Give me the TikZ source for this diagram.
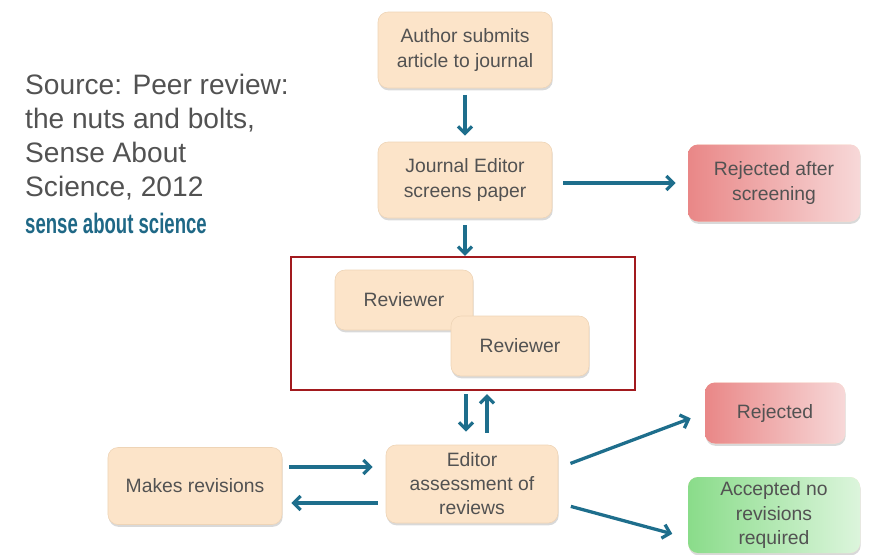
\documentclass[tikz,border=0pt]{standalone}
\usepackage{fontspec}
\setmainfont{Liberation Sans}
\usetikzlibrary{shadows}
\usetikzlibrary{arrows.meta}

\definecolor{peach}{RGB}{252,228,201}
\definecolor{peachline}{RGB}{238,212,182}
\definecolor{flowblue}{RGB}{30,110,140}
\definecolor{framered}{RGB}{162,26,30}
\definecolor{txtgray}{RGB}{82,82,82}
\definecolor{logoblue}{RGB}{31,104,134}
\definecolor{rejdark}{RGB}{233,135,135}
\definecolor{rejlight}{RGB}{247,216,216}
\definecolor{accdark}{RGB}{138,220,138}
\definecolor{acclight}{RGB}{220,245,220}

\begin{document}
\begin{tikzpicture}[x=0.03cm,y=-0.03cm,
  box/.style={rounded corners=0.3cm,fill=peach,draw=peachline,line width=0.5pt,
    text=txtgray,align=center,inner sep=0pt,font=\fontsize{16.5}{20.5}\selectfont,
    drop shadow={shadow xshift=0.6pt,shadow yshift=-2pt,opacity=0.3}},
  rejbox/.style={box,draw=none,left color=rejdark,right color=rejlight},
  accbox/.style={box,draw=none,left color=accdark,right color=acclight},
  flow/.style={draw=flowblue,line width=2.8pt,-{Straight Barb[length=6pt,width=12pt]}}]
\useasboundingbox (0,0) rectangle (871,554);

% source text
\node [anchor=north west,inner sep=0pt,align=left,text=txtgray,
  font=\fontsize{24}{29}\selectfont] (source) at (25,74)
  {Source: Peer review:\\the nuts and bolts,\\Sense About\\Science, 2012};
\node [anchor=base west,inner sep=0pt,text=logoblue,font=\bfseries\fontsize{24}{24}\selectfont]
  (logo) at (25,233) {\scalebox{0.66}[1]{sense about science}};

% main flow
\node [box,minimum width=5.22cm,minimum height=2.28cm] (author) at (465,50)
  {Author submits\\article to journal};
\node [box,minimum width=5.22cm,minimum height=2.28cm] (screen) at (465,180)
  {Journal Editor\\screens paper};
\node [rejbox,minimum width=5.16cm,minimum height=2.31cm] (rejscreen) at (774,183)
  {Rejected after\\screening};

\node [draw=framered,line width=1.8pt,minimum width=10.32cm,minimum height=3.99cm,
  inner sep=0pt] (panel) at (463,323.5) {};
\node [box,minimum width=4.14cm,minimum height=1.8cm] (rev1) at (404,300) {Reviewer};
\node [box,minimum width=4.14cm,minimum height=1.8cm] (rev2) at (520,346) {Reviewer};

\node [box,minimum width=5.16cm,minimum height=2.34cm] (assess) at (472,484)
  {Editor\\assessment of\\reviews};
\node [box,minimum width=5.22cm,minimum height=2.31cm] (revise) at (195,486)
  {Makes revisions};
\node [rejbox,minimum width=4.2cm,minimum height=1.83cm] (rejected) at (775,413)
  {Rejected};
\node [accbox,minimum width=5.16cm,minimum height=2.28cm] (accepted) at (774,515)
  {Accepted no\\revisions\\required};

% arrows
\draw [flow,shorten <=0.2cm,shorten >=0.18cm] (author) -- (screen);
\draw [flow,shorten <=0.33cm,shorten >=0.36cm] (screen.east |- rejscreen.west) -- (rejscreen.west);
\draw [flow,shorten <=0.21cm] (screen.south) -- (screen.south |- panel.north);
\draw [flow,shorten <=0.09cm,shorten >=0.39cm] ([xshift=0.09cm]panel.south)
  -- ([xshift=0.09cm]panel.south |- assess.north);
\draw [flow,shorten <=0.36cm,shorten >=0.09cm] ([xshift=0.72cm]panel.south |- assess.north)
  -- ([xshift=0.72cm]panel.south);
\draw [flow,shorten <=0.21cm,shorten >=0.39cm] ([yshift=0.57cm]revise.east)
  -- ([yshift=0.57cm]revise.east -| assess.west);
\draw [flow,shorten <=0.24cm,shorten >=0.27cm] ([yshift=-0.57cm]assess.west)
  -- ([yshift=-0.57cm]assess.west -| revise.east);
\draw [flow,shorten <=0.39cm,shorten >=0.45cm] ([yshift=0.48cm]assess.east) -- (rejected.west);
\draw [flow,shorten <=0.39cm,shorten >=0.48cm] ([yshift=-0.57cm]assess.east)
  -- ([yshift=-0.69cm]accepted.west);
\end{tikzpicture}
\end{document}
